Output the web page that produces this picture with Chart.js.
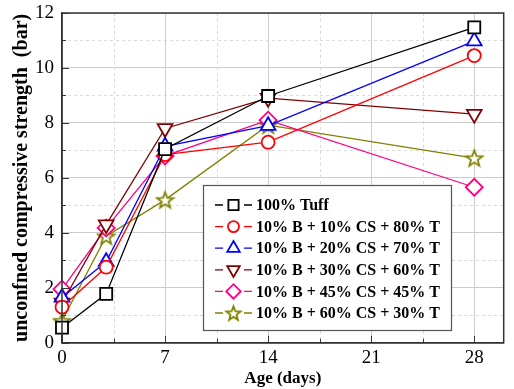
<!DOCTYPE html>
<html>
<head>
<meta charset="utf-8">
<script src="https://cdn.jsdelivr.net/npm/chart.js@4.4.1/dist/chart.umd.min.js"></script>
<style>
  html, body { margin: 0; padding: 0; background: #fff; }
  #wrap { width: 514px; height: 389px; }
</style>
</head>
<body>
<div id="wrap"><canvas id="strengthChart" width="514" height="389"></canvas></div>
<script>
// curing age (days) and strength values (bar)
const days = [0, 3, 7, 14, 28];
const tuff100 = [0.55, 1.78, 7.05, 8.98, 11.48];
const mixCS10 = [1.3, 2.75, 6.85, 7.3, 10.45];
const mixCS20 = [1.65, 2.95, 7.15, 7.9, 10.98];
const mixCS30 = [1.45, 4.3, 7.8, 8.9, 8.32];
const mixCS45 = [1.95, 4.18, 6.8, 8.1, 5.66];
const mixCS60 = [0.8, 3.88, 5.2, 7.92, 6.72];
const seriesNames = [
  '100% Tuff',
  '10% B + 10% CS + 80% T',
  '10% B + 20% CS + 70% T',
  '10% B + 30% CS + 60% T',
  '10% B + 45% CS + 45% T',
  '10% B + 60% CS + 30% T'
];
const xTickLabels = [0, 7, 14, 21, 28];
const yTickLabels = [0, 2, 4, 6, 8, 10, 12];

const FONT = '"Liberation Serif", "Times New Roman", serif';

function isLabelled(v, list) {
  return list.some(t => Math.abs(t - v) < 1e-6);
}

// hollow 5-point star for the last series
function makeStar(color, outer) {
  const size = Math.ceil(outer * 2 + 4);
  const c = document.createElement('canvas');
  c.width = size; c.height = size;
  const g = c.getContext('2d');
  const cx = size / 2, cy = size / 2 + 0.8;
  g.beginPath();
  for (let i = 0; i < 10; i++) {
    const r = i % 2 === 0 ? outer : outer * 0.42;
    const a = -Math.PI / 2 + i * Math.PI / 5;
    const px = cx + r * Math.cos(a), py = cy + r * Math.sin(a);
    if (i === 0) g.moveTo(px, py); else g.lineTo(px, py);
  }
  g.closePath();
  g.fillStyle = '#fff';
  g.fill();
  g.lineWidth = 1.8;
  g.strokeStyle = color;
  g.stroke();
  return c;
}

const styles = [
  { color: '#000000', point: 'rect', radius: 8.5, rotation: 0 },
  { color: '#ff0000', point: 'circle', radius: 6.5, rotation: 0 },
  { color: '#0000ff', point: 'triangle', radius: 8.5, rotation: 0 },
  { color: '#800000', point: 'triangle', radius: 8.5, rotation: 180 },
  { color: '#ff0080', point: 'rectRot', radius: 8.5, rotation: 0 },
  { color: '#808000', point: makeStar('#808000', 8.5), radius: 8.5, rotation: 0 }
];
const legendStar = makeStar('#808000', 7.5);

const allValues = [tuff100, mixCS10, mixCS20, mixCS30, mixCS45, mixCS60];

const datasets = allValues.map((vals, i) => ({
  label: seriesNames[i],
  data: days.map((d, j) => ({ x: d, y: vals[j] })),
  borderColor: styles[i].color,
  backgroundColor: '#fff',
  borderWidth: 1.3,
  pointStyle: styles[i].point,
  pointRadius: styles[i].radius,
  pointRotation: styles[i].rotation,
  pointBorderWidth: 1.8,
  pointBorderColor: styles[i].color,
  pointBackgroundColor: '#fff',
  pointHoverRadius: styles[i].radius,
  showLine: true,
  tension: 0,
  clip: false
}));

// minor dashed grid, inward ticks, top/right frame
const framePlugin = {
  id: 'frame',
  beforeDatasetsDraw(chart) {
    const { ctx, chartArea: a, scales: { x, y } } = chart;
    ctx.save();
    ctx.strokeStyle = '#dadada';
    ctx.lineWidth = 1;
    ctx.setLineDash([3, 3]);
    for (let v = 3.5; v < 30; v += 7) {
      const px = Math.round(x.getPixelForValue(v)) + 0.5;
      ctx.beginPath(); ctx.moveTo(px, a.top); ctx.lineTo(px, a.bottom); ctx.stroke();
    }
    for (let v = 1; v < 12; v += 2) {
      const py = Math.round(y.getPixelForValue(v)) + 0.5;
      ctx.beginPath(); ctx.moveTo(a.left, py); ctx.lineTo(a.right, py); ctx.stroke();
    }
    ctx.restore();
  },
  afterDatasetsDraw(chart) {
    const { ctx, chartArea: a, scales: { x, y } } = chart;
    ctx.save();
    ctx.strokeStyle = '#333';
    ctx.lineWidth = 1.5;
    ctx.strokeRect(a.left, a.top, a.right - a.left, a.bottom - a.top);
    ctx.lineWidth = 1;
    for (let v = 0; v <= 28; v += 3.5) {
      const px = Math.round(x.getPixelForValue(v)) + 0.5;
      const len = v % 7 === 0 ? 7 : 4;
      ctx.beginPath(); ctx.moveTo(px, a.bottom); ctx.lineTo(px, a.bottom - len); ctx.stroke();
    }
    for (let v = 0; v <= 12; v += 1) {
      const py = Math.round(y.getPixelForValue(v)) + 0.5;
      const len = v % 2 === 0 ? 7 : 4;
      ctx.beginPath(); ctx.moveTo(a.left, py); ctx.lineTo(a.left + len, py); ctx.stroke();
    }
    ctx.restore();
  }
};

// Origin-style legend box inside the plot
const legendPlugin = {
  id: 'boxLegend',
  afterDraw(chart) {
    const { ctx } = chart;
    const bx = 203, by = 185, bw = 248, bh = 145;
    ctx.save();
    ctx.fillStyle = '#fff';
    ctx.fillRect(bx, by, bw, bh);
    ctx.strokeStyle = '#555';
    ctx.lineWidth = 1.2;
    ctx.strokeRect(bx + 0.5, by + 0.5, bw, bh);
    chart.data.datasets.forEach((ds, i) => {
      const cy = by + 20 + i * 21.6;
      const x0 = bx + 12;
      ctx.strokeStyle = ds.borderColor;
      ctx.lineWidth = 1.3;
      ctx.beginPath();
      ctx.moveTo(x0, cy); ctx.lineTo(x0 + 8, cy);
      ctx.moveTo(x0 + 29, cy); ctx.lineTo(x0 + 37, cy);
      ctx.stroke();
      ctx.fillStyle = '#fff';
      ctx.strokeStyle = ds.borderColor;
      ctx.lineWidth = 1.8;
      const style = typeof ds.pointStyle === 'string' ? ds.pointStyle : legendStar;
      Chart.helpers.drawPoint(ctx, {
        pointStyle: style,
        radius: ds.pointRadius * 0.85,
        rotation: ds.pointRotation,
        borderWidth: 1.8
      }, x0 + 18.5, cy);
      ctx.fillStyle = '#000';
      ctx.font = 'bold 16px ' + FONT;
      ctx.textBaseline = 'middle';
      ctx.textAlign = 'left';
      ctx.fillText(ds.label, x0 + 41, cy + 1);
    });
    ctx.restore();
  }
};

const ctx = document.getElementById('strengthChart').getContext('2d');
new Chart(ctx, {
  type: 'scatter',
  data: { datasets: datasets },
  plugins: [framePlugin, legendPlugin],
  options: {
    responsive: false,
    animation: false,
    events: [],
    layout: { padding: { top: 0, right: 4, left: 10, bottom: 0 } },
    plugins: { legend: { display: false }, tooltip: { enabled: false } },
    scales: {
      x: {
        type: 'linear',
        min: 0,
        max: 30,
        afterBuildTicks: scale => {
          const t = [];
          for (let v = 0; v <= 28; v += 3.5) t.push({ value: v });
          t.push({ value: 30 });
          scale.ticks = t;
        },
        ticks: {
          autoSkip: false,
          maxRotation: 0,
          padding: 4,
          color: '#000',
          font: { family: FONT, size: 19 },
          callback: v => isLabelled(v, xTickLabels) ? String(Math.round(v)) : ''
        },
        grid: {
          drawTicks: false,
          color: c => (c.tick && isLabelled(c.tick.value, xTickLabels) && c.tick.value > 0) ? '#cccccc' : 'rgba(0,0,0,0)'
        },
        border: { color: '#333', width: 1.5 },
        title: {
          display: true,
          text: 'Age (days)',
          color: '#000',
          font: { family: FONT, size: 17, weight: 'bold' },
          padding: { top: -5, bottom: 0 }
        }
      },
      y: {
        type: 'linear',
        min: 0,
        max: 12,
        afterFit: scale => { scale.paddingTop = 13; },
        ticks: {
          stepSize: 1,
          autoSkip: false,
          padding: 8,
          color: '#000',
          font: { family: FONT, size: 19, lineHeight: 0.9 },
          callback: v => isLabelled(v, yTickLabels) ? String(v) : ''
        },
        grid: {
          drawTicks: false,
          color: c => (c.tick && isLabelled(c.tick.value, yTickLabels) && c.tick.value > 0) ? '#cccccc' : 'rgba(0,0,0,0)'
        },
        border: { color: '#333', width: 1.5 },
        title: {
          display: true,
          text: 'unconfned compressive strength  (bar)',
          color: '#000',
          font: { family: FONT, size: 20, weight: 'bold' },
          padding: { top: 0, bottom: -7 }
        }
      }
    }
  }
});
</script>
</body>
</html>
